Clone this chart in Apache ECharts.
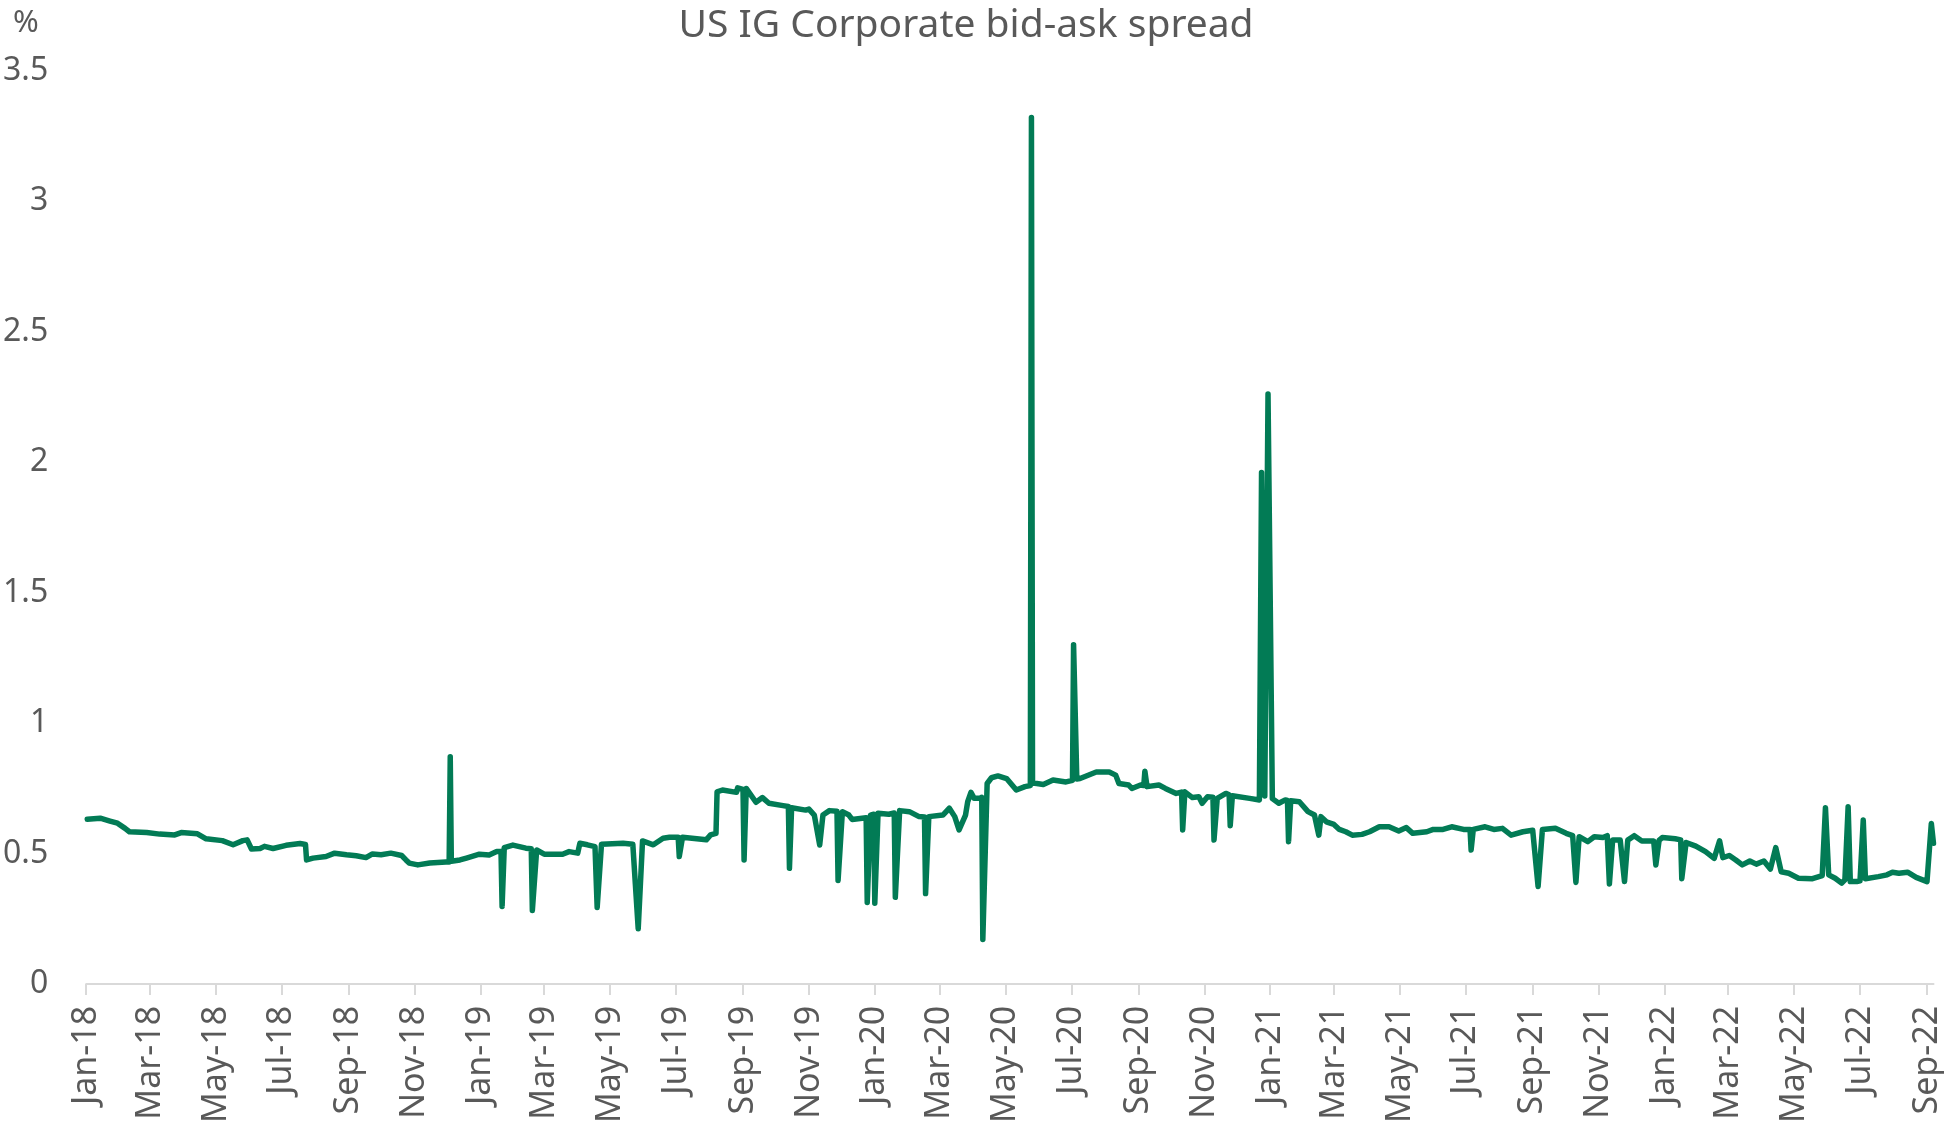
<!DOCTYPE html>
<html>
<head>
<meta charset="utf-8">
<script src="https://cdn.jsdelivr.net/npm/echarts@6/dist/echarts.min.js"></script>
<style>
html,body{margin:0;padding:0;background:#fff;}
#chart{width:1944px;height:1126px;}
</style>
</head>
<body>
<div id="chart"></div>
<script>
const chartTitle = 'US IG Corporate bid-ask spread';
const unitLabel = '%';

const dates2018 = ['2018-01-02','2018-01-14','2018-01-23','2018-01-30','2018-02-06','2018-02-10','2018-02-26','2018-03-10','2018-03-24','2018-03-30','2018-04-14','2018-04-22','2018-05-07','2018-05-17','2018-05-26','2018-05-30','2018-06-03','2018-06-11','2018-06-15','2018-06-23','2018-07-05','2018-07-18','2018-07-23','2018-07-24','2018-07-30','2018-08-11','2018-08-19','2018-08-30','2018-09-08','2018-09-17','2018-09-23','2018-10-01','2018-10-10','2018-10-20','2018-10-24','2018-10-27','2018-11-04','2018-11-15','2018-11-30','2018-12-03','2018-12-04','2018-12-05','2018-12-13','2018-12-19','2018-12-31'];
const spread2018 = [0.631,0.635,0.624,0.616,0.596,0.583,0.580,0.574,0.571,0.580,0.575,0.556,0.549,0.533,0.549,0.552,0.517,0.519,0.527,0.519,0.531,0.538,0.534,0.475,0.482,0.488,0.501,0.495,0.491,0.484,0.498,0.495,0.501,0.492,0.475,0.463,0.456,0.463,0.467,0.467,0.870,0.470,0.475,0.482,0.497];

const dates2019 = ['2019-01-09','2019-01-16','2019-01-20','2019-01-21','2019-01-23','2019-01-31','2019-02-12','2019-02-17','2019-02-18','2019-02-22','2019-03-01','2019-03-18','2019-03-24','2019-04-01','2019-04-03','2019-04-10','2019-04-17','2019-04-19','2019-04-23','2019-05-13','2019-05-22','2019-05-27','2019-05-31','2019-06-10','2019-06-19','2019-06-25','2019-07-03','2019-07-04','2019-07-07','2019-07-29','2019-08-02','2019-08-07','2019-08-08','2019-08-13','2019-08-26','2019-08-27','2019-09-01','2019-09-02','2019-09-04','2019-09-13','2019-09-19','2019-09-25','2019-10-08','2019-10-13','2019-10-14','2019-10-16','2019-10-29','2019-11-01','2019-11-06','2019-11-11','2019-11-14','2019-11-20','2019-11-27','2019-11-28','2019-12-02','2019-12-08','2019-12-11','2019-12-24','2019-12-25','2019-12-28','2019-12-31'];
const spread2019 = [0.494,0.507,0.507,0.297,0.522,0.532,0.520,0.518,0.281,0.513,0.497,0.497,0.507,0.501,0.539,0.533,0.526,0.293,0.535,0.539,0.535,0.211,0.548,0.533,0.558,0.562,0.562,0.488,0.562,0.552,0.571,0.577,0.736,0.743,0.734,0.751,0.745,0.475,0.749,0.696,0.714,0.692,0.683,0.680,0.443,0.675,0.666,0.670,0.647,0.532,0.647,0.664,0.662,0.396,0.660,0.647,0.630,0.637,0.312,0.647,0.650];

const dates2020 = ['2020-01-01','2020-01-04','2020-01-14','2020-01-19','2020-01-20','2020-01-24','2020-02-02','2020-02-11','2020-02-16','2020-02-17','2020-02-20','2020-03-04','2020-03-10','2020-03-15','2020-03-19','2020-03-25','2020-03-27','2020-03-30','2020-04-02','2020-04-07','2020-04-09','2020-04-10','2020-04-14','2020-04-18','2020-04-24','2020-05-02','2020-05-11','2020-05-19','2020-05-24','2020-05-25','2020-05-26','2020-05-30','2020-06-05','2020-06-14','2020-06-26','2020-07-02','2020-07-03','2020-07-06','2020-07-09','2020-07-24','2020-08-05','2020-08-11','2020-08-14','2020-08-23','2020-08-26','2020-09-03','2020-09-06','2020-09-07','2020-09-09','2020-09-20','2020-09-26','2020-10-06','2020-10-11','2020-10-12','2020-10-14','2020-10-21','2020-10-27','2020-10-30','2020-11-04','2020-11-09','2020-11-10','2020-11-13','2020-11-21','2020-11-24','2020-11-25','2020-11-27','2020-12-13','2020-12-22','2020-12-24','2020-12-27','2020-12-30'];
const spread2020 = [0.309,0.654,0.650,0.655,0.332,0.664,0.660,0.641,0.640,0.346,0.641,0.647,0.673,0.641,0.590,0.647,0.698,0.734,0.711,0.711,0.715,0.170,0.768,0.790,0.797,0.787,0.743,0.756,0.760,3.320,0.770,0.768,0.764,0.781,0.774,0.780,1.300,0.785,0.787,0.812,0.812,0.800,0.768,0.762,0.749,0.762,0.760,0.815,0.756,0.762,0.749,0.730,0.735,0.590,0.736,0.714,0.717,0.692,0.717,0.715,0.551,0.711,0.730,0.725,0.606,0.721,0.711,0.705,1.960,0.720,2.260];

const dates2021 = ['2021-01-03','2021-01-09','2021-01-15','2021-01-17','2021-01-18','2021-01-20','2021-01-28','2021-02-05','2021-02-11','2021-02-15','2021-02-17','2021-02-22','2021-03-01','2021-03-06','2021-03-12','2021-03-18','2021-03-27','2021-04-03','2021-04-12','2021-04-21','2021-04-30','2021-05-07','2021-05-13','2021-05-26','2021-06-01','2021-06-10','2021-06-18','2021-06-29','2021-07-05','2021-07-06','2021-07-08','2021-07-19','2021-07-27','2021-08-04','2021-08-12','2021-08-23','2021-09-01','2021-09-06','2021-09-10','2021-09-22','2021-10-02','2021-10-08','2021-10-11','2021-10-14','2021-10-22','2021-10-28','2021-11-05','2021-11-09','2021-11-11','2021-11-14','2021-11-21','2021-11-25','2021-11-28','2021-12-04','2021-12-11','2021-12-22','2021-12-24','2021-12-27','2021-12-30'];
const spread2021 = [0.710,0.692,0.705,0.703,0.545,0.702,0.698,0.660,0.647,0.570,0.641,0.621,0.611,0.592,0.583,0.570,0.573,0.583,0.602,0.602,0.586,0.599,0.577,0.583,0.592,0.592,0.602,0.592,0.592,0.513,0.592,0.602,0.592,0.596,0.570,0.583,0.589,0.373,0.592,0.596,0.577,0.568,0.389,0.564,0.545,0.564,0.561,0.568,0.383,0.551,0.551,0.392,0.551,0.568,0.548,0.548,0.456,0.550,0.561];

const dates2022 = ['2022-01-11','2022-01-16','2022-01-17','2022-01-21','2022-01-30','2022-02-08','2022-02-16','2022-02-21','2022-02-24','2022-03-02','2022-03-08','2022-03-14','2022-03-21','2022-03-27','2022-04-03','2022-04-09','2022-04-14','2022-04-19','2022-04-26','2022-05-05','2022-05-18','2022-05-24','2022-05-27','2022-05-30','2022-06-02','2022-06-08','2022-06-14','2022-06-17','2022-06-20','2022-06-22','2022-06-28','2022-07-01','2022-07-04','2022-07-06','2022-07-18','2022-07-26','2022-07-31','2022-08-06','2022-08-14','2022-08-22','2022-09-01','2022-09-05','2022-09-07'];
const spread2022 = [0.556,0.552,0.403,0.542,0.528,0.507,0.481,0.548,0.484,0.492,0.475,0.456,0.471,0.459,0.471,0.440,0.522,0.430,0.424,0.405,0.403,0.411,0.415,0.675,0.418,0.405,0.386,0.399,0.679,0.392,0.392,0.395,0.628,0.403,0.411,0.418,0.428,0.424,0.428,0.408,0.392,0.615,0.539];

const tickDates = ['2018-01-01','2018-03-01','2018-05-01','2018-07-01','2018-09-01','2018-11-01','2019-01-01','2019-03-01','2019-05-01','2019-07-01','2019-09-01','2019-11-01','2020-01-01','2020-03-01','2020-05-01','2020-07-01','2020-09-01','2020-11-01','2021-01-01','2021-03-01','2021-05-01','2021-07-01','2021-09-01','2021-11-01','2022-01-01','2022-03-01','2022-05-01','2022-07-01','2022-09-01'];
const tickLabels = ['Jan-18','Mar-18','May-18','Jul-18','Sep-18','Nov-18','Jan-19','Mar-19','May-19','Jul-19','Sep-19','Nov-19','Jan-20','Mar-20','May-20','Jul-20','Sep-20','Nov-20','Jan-21','Mar-21','May-21','Jul-21','Sep-21','Nov-21','Jan-22','Mar-22','May-22','Jul-22','Sep-22'];
const axisStart = '2018-01-01';
const axisEnd = '2022-09-07';

// dates -> day number (UTC based, so no DST offsets)
const toTs = s => { const p = s.split('-').map(Number); return Date.UTC(p[0], p[1] - 1, p[2]) / 86400000; };

const allDates = [].concat(dates2018, dates2019, dates2020, dates2021, dates2022);
const allSpread = [].concat(spread2018, spread2019, spread2020, spread2021, spread2022);
const seriesData = allDates.map((d, i) => [toTs(d), allSpread[i]]);
const tickTs = tickDates.map(toTs);

const FONT = '"Noto Sans", "Open Sans", sans-serif';
const TXT = '#595959';

const chart = echarts.init(document.getElementById('chart'), null, {renderer: 'canvas'});
chart.setOption({
  animation: false,
  backgroundColor: '#ffffff',
  title: [
    { text: chartTitle, left: 961, textAlign: 'center', top: 1,
      textStyle: { fontFamily: FONT, fontSize: 39, fontWeight: 'normal', color: TXT } },
    { text: unitLabel, left: 8, top: 3,
      textStyle: { fontFamily: FONT, fontSize: 31, fontWeight: 'normal', color: TXT } }
  ],
  grid: { left: 86, right: 10, top: 70.5, bottom: 140, containLabel: false },
  xAxis: {
    type: 'value',
    min: toTs(axisStart),
    max: toTs(axisEnd),
    axisLine: { show: true, lineStyle: { color: '#D9D9D9', width: 2 } },
    axisTick: { show: true, customValues: tickTs, length: 11, lineStyle: { color: '#D9D9D9', width: 2 } },
    splitLine: { show: false },
    axisLabel: {
      customValues: tickTs,
      rotate: 90,
      margin: 22,
      hideOverlap: false,
      showMinLabel: true,
      showMaxLabel: true,
      fontFamily: FONT, fontSize: 34, color: TXT,
      formatter: v => { const i = tickTs.indexOf(v); return i >= 0 ? tickLabels[i] : ''; }
    }
  },
  yAxis: {
    type: 'value',
    min: 0, max: 3.5, interval: 0.5,
    axisLine: { show: false },
    axisTick: { show: false },
    splitLine: { show: false },
    axisLabel: { fontFamily: FONT, fontSize: 32, color: TXT, margin: 38 }
  },
  series: [{
    type: 'line',
    data: seriesData,
    showSymbol: false,
    symbol: 'none',
    lineStyle: { color: '#027B55', width: 5.5, join: 'round', cap: 'round' },
    itemStyle: { color: '#027B55' }
  }]
});
</script>
</body>
</html>
